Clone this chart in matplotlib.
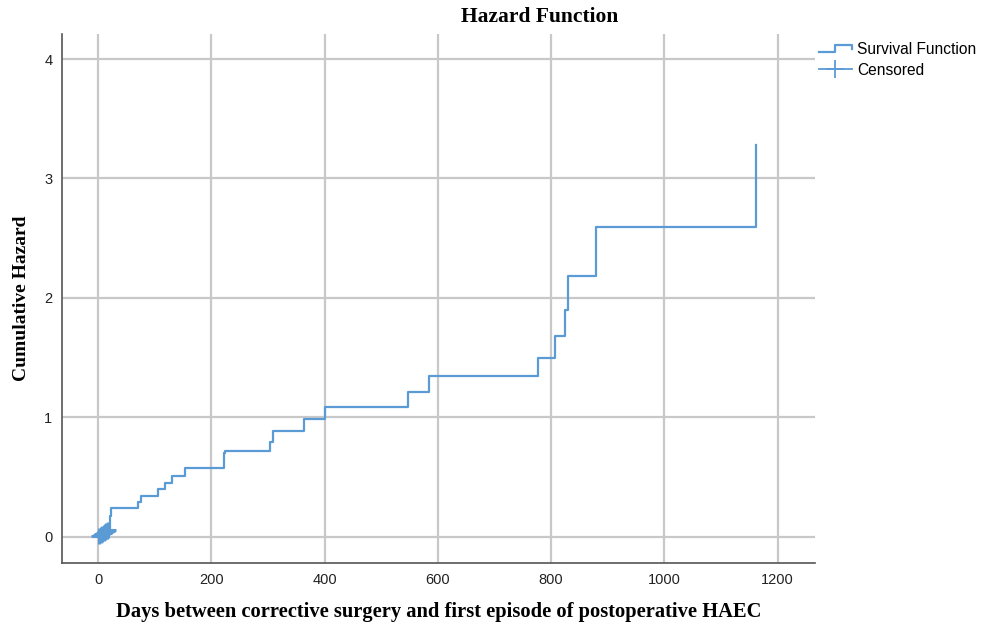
import matplotlib
matplotlib.use('Agg')
import matplotlib.pyplot as plt
import numpy as np
from matplotlib.legend_handler import HandlerBase
from matplotlib.lines import Line2D

# cumulative hazard step function (days, hazard)
event_days = [0, 1, 3, 4, 6, 8, 9, 11, 13, 15, 17, 19, 20, 21, 22,
              71, 75, 105, 118, 130, 153, 222, 224, 304, 309, 363, 400,
              547, 584, 776, 807, 825, 829, 880, 1162]
cum_hazard = [0, 0.005, 0.011, 0.016, 0.022, 0.028, 0.034, 0.040, 0.046, 0.052,
              0.058, 0.065, 0.11, 0.17, 0.243,
              0.293, 0.341, 0.397, 0.453, 0.511, 0.578, 0.70, 0.721, 0.796, 0.888,
              0.984, 1.09, 1.21, 1.347, 1.495, 1.68, 1.90, 2.185, 2.593, 3.283]
censored_days = [2, 5, 7, 10, 12, 14, 16, 18]

x_ticks = [0, 200, 400, 600, 800, 1000, 1200]
y_ticks = [0, 1, 2, 3, 4]

blue = '#5b9bd5'
grid_c = '#c8c8c8'

event_days = np.array(event_days)
cum_hazard = np.array(cum_hazard)
idx = np.searchsorted(event_days, censored_days, side='right') - 1
censored_h = cum_hazard[idx]


class HandlerStep(HandlerBase):
    def create_artists(self, legend, orig_handle, xdescent, ydescent,
                       width, height, fontsize, trans):
        x0 = -xdescent
        y0 = -ydescent
        xs = [x0, x0 + 0.5 * width, x0 + 0.5 * width, x0 + width, x0 + width]
        ys = [y0 + 0.2 * height, y0 + 0.2 * height, y0 + 0.8 * height,
              y0 + 0.8 * height, y0 + 0.5 * height]
        ln = Line2D(xs, ys, color=orig_handle.get_color(),
                    linewidth=orig_handle.get_linewidth(), transform=trans)
        return [ln]


fig = plt.figure(figsize=(9.88, 6.27), dpi=100)
ax = fig.add_axes([62 / 988, 1 - 563 / 627, (815 - 62) / 988, (563 - 34) / 627])

surv_line, = ax.step(event_days, cum_hazard, where='post', color=blue, lw=1.6, zorder=3)
cens_line, = ax.plot(censored_days, censored_h, linestyle='none', marker='+',
                     markersize=11, markeredgewidth=2.2, color=blue, zorder=4)

ax.set_xlim(-64, 1266)
ax.set_ylim(-0.22, 4.21)
ax.set_xticks(x_ticks)
ax.set_yticks(y_ticks)
ax.grid(True, color=grid_c, linewidth=1.6)
ax.set_axisbelow(True)
ax.tick_params(length=0, pad=7, labelsize=10.5, labelcolor='#222222')
for lab in ax.get_xticklabels() + ax.get_yticklabels():
    lab.set_fontfamily('Liberation Sans')

for s in ['top', 'right']:
    ax.spines[s].set_visible(False)
for s in ['left', 'bottom']:
    ax.spines[s].set_color('#555555')
    ax.spines[s].set_linewidth(1.2)

ax.set_xlabel('Days between corrective surgery and first episode of postoperative HAEC',
              fontfamily='Liberation Serif', fontweight='bold', fontsize=14.8, labelpad=11)
ax.set_ylabel('Cumulative Hazard', fontfamily='Liberation Serif',
              fontweight='bold', fontsize=14, labelpad=10)
fig.text(540 / 988, 1 - 17 / 627, 'Hazard Function', ha='center', va='center',
         fontfamily='Liberation Serif', fontweight='bold', fontsize=15.5)

cens_handle = Line2D([], [], color=blue, lw=1.3, marker='+', markersize=13,
                     markeredgewidth=1.3)
fig.legend([surv_line, cens_handle], ['Survival Function', 'Censored'],
           handler_map={surv_line: HandlerStep()},
           loc='upper left', bbox_to_anchor=(805 / 988, 1 - 28 / 627),
           frameon=False, handlelength=2.1, handletextpad=0.35,
           labelspacing=0.38, prop={'family': 'Liberation Sans', 'size': 11.2})

fig.savefig('out.png', dpi=100)
